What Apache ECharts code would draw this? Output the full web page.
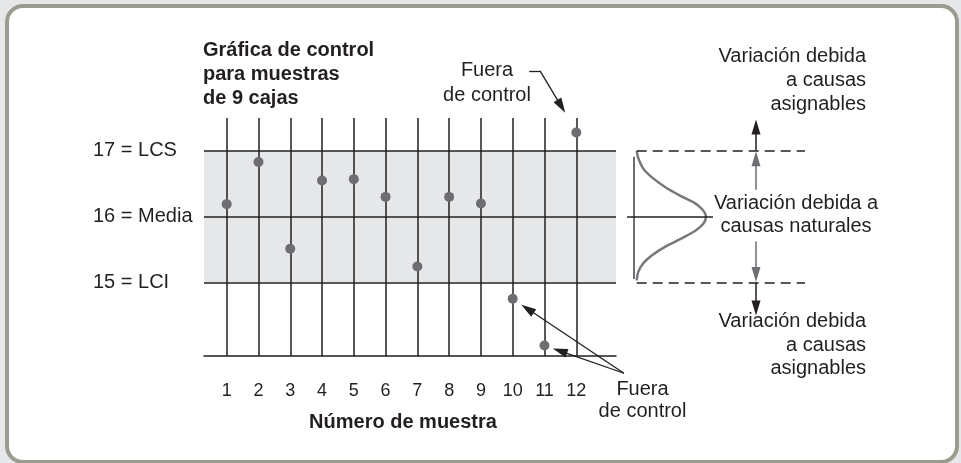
<!DOCTYPE html>
<html>
<head>
<meta charset="utf-8">
<script src="https://cdn.jsdelivr.net/npm/echarts@6/dist/echarts.min.js"></script>
<style>
  html, body { margin: 0; padding: 0; background: #e6e7e8; }
  #chart { width: 961px; height: 463px; }
</style>
</head>
<body>
<div id="chart"></div>
<script>
// número de muestra (eje X)
var samples = [1, 2, 3, 4, 5, 6, 7, 8, 9, 10, 11, 12];
// media de cada muestra de 9 cajas
var sampleMeans = [16.19, 16.83, 15.51, 16.55, 16.57, 16.30, 15.24, 16.30, 16.20, 14.75, 14.04, 17.28];
// LCI, media, LCS
var limitValues = [15, 16, 17];
var limitLabels = ['15 = LCI', '16 = Media', '17 = LCS'];
// campana de la variación natural (ancho, valor)
var bellWidth = [2.7, 4.3, 9.3, 17.7, 31, 46, 59.3, 67.7, 72, 69.3, 61, 47.7, 31, 17.7, 9.3, 4.3, 2.7];
var bellValue = [17.0, 16.89, 16.73, 16.60, 16.45, 16.32, 16.22, 16.12, 16.0, 15.89, 15.78, 15.67, 15.54, 15.41, 15.29, 15.16, 15.03];

var yMin = 13.88, yMax = 17.5;
var ink = '#231f20';
var grey = '#6d6e71';
var font = '"Liberation Sans", Arial, Helvetica, sans-serif';

var chart = echarts.init(document.getElementById('chart'));

function seg(a, b, style) {
    var s = [{ coord: a }, { coord: b }];
    if (style) s[0].lineStyle = style;
    return s;
}
function txt(text, x, y, align, lh, bold) {
    return {
        type: 'text', z: 5,
        style: {
            text: text, x: x, y: y, fill: ink,
            font: (bold ? 'bold ' : '') + '20px ' + font,
            textAlign: align, textVerticalAlign: 'top', lineHeight: lh
        }
    };
}

var points = samples.map(function (s, i) { return [s, sampleMeans[i]]; });
var bell = bellWidth.map(function (w, i) { return [w, bellValue[i]]; });

var noLabel = { show: false };

chart.setOption({
    animation: false,
    backgroundColor: '#e6e7e8',
    textStyle: { fontFamily: font },
    graphic: [
        { type: 'rect', z: -10, shape: { x: 7, y: 6, width: 950, height: 456, r: 16 },
          style: { fill: '#ffffff', stroke: '#9b9b8f', lineWidth: 4 } },
        txt('Gráfica de control\npara muestras\nde 9 cajas', 203, 38, 'left', 24, true),
        txt('Fuera\nde control', 487, 57.5, 'center', 25),
        txt('Variación debida\na causas\nasignables', 866, 44, 'right', 24),
        txt('Variación debida a\ncausas naturales', 796, 191.5, 'center', 23.5),
        txt('Variación debida\na causas\nasignables', 866, 310, 'right', 23.5),
        txt('Fuera\nde control', 642.5, 378, 'center', 22.5)
    ],
    grid: [
        { left: 204, top: 118, width: 412, height: 238 },
        { left: 614, top: 118, width: 220, height: 238 },
        // capa de anotaciones: misma escala que la gráfica, sobre todo el lienzo
        { left: 0, top: 0, width: 961, height: 463 }
    ],
    xAxis: [
        {
            type: 'value', gridIndex: 0, min: 0.286, max: 13.25,
            axisLine: { show: true, onZero: false, lineStyle: { color: ink, width: 1.5 } },
            axisTick: { show: false },
            splitLine: { show: false },
            axisLabel: { customValues: samples, color: ink, fontSize: 18, margin: 26 },
            name: 'Número de muestra', nameLocation: 'middle', nameGap: 56,
            nameTextStyle: { color: ink, fontSize: 20, fontWeight: 'bold', padding: [0, 14, 0, 0] }
        },
        { type: 'value', gridIndex: 1, min: -20, max: 200, show: false },
        { type: 'value', gridIndex: 2, min: -6.133, max: 24.106, show: false }
    ],
    yAxis: [
        {
            type: 'value', gridIndex: 0, min: yMin, max: yMax,
            axisLine: { show: false }, axisTick: { show: false }, splitLine: { show: false },
            axisLabel: {
                customValues: limitValues, align: 'left', margin: 111, color: ink, fontSize: 20,
                formatter: function (v) { return limitLabels[limitValues.indexOf(v)]; }
            }
        },
        { type: 'value', gridIndex: 1, min: yMin, max: yMax, show: false },
        { type: 'value', gridIndex: 2, min: 12.255, max: 19.297, show: false }
    ],
    series: [
        {
            // zona de control, rejilla vertical y límites
            name: 'rejilla', type: 'line', data: [], silent: true,
            markArea: {
                silent: true,
                itemStyle: { color: '#e6e7e8' },
                label: noLabel,
                data: [[{ yAxis: 15 }, { yAxis: 17 }]]
            },
            markLine: {
                silent: true, symbol: ['none', 'none'], label: noLabel,
                emphasis: { disabled: true },
                lineStyle: { color: ink, width: 1.5, type: 'solid' },
                data: samples.map(function (s) { return { xAxis: s }; })
                    .concat(limitValues.map(function (v) { return { yAxis: v }; }))
            }
        },
        {
            // flechas "Fuera de control"
            name: 'fuera', type: 'line', xAxisIndex: 2, yAxisIndex: 2, data: [], silent: true,
            markLine: {
                silent: true, symbol: ['none', 'triangle'], symbolSize: [9, 15], label: noLabel,
                emphasis: { disabled: true },
                lineStyle: { color: ink, width: 1.3, type: 'solid' },
                data: [
                    [{ coord: [10.52, 18.22], symbol: 'none' }, { coord: [10.86, 18.22], symbol: 'none' }],
                    seg([10.86, 18.22], [11.53, 17.68]),
                    seg([13.50, 13.62], [10.465, 14.60]),
                    seg([13.50, 13.62], [11.485, 13.96])
                ]
            }
        },
        {
            name: 'Media de la muestra', type: 'scatter', z: 10,
            data: points, symbolSize: 10,
            itemStyle: { color: grey, opacity: 1 }
        },
        {
            // distribución de la variación natural
            name: 'campana', type: 'line', xAxisIndex: 1, yAxisIndex: 1,
            data: bell, smooth: 0.3, symbol: 'none', silent: true,
            lineStyle: { color: '#77787b', width: 2.5 },
            markLine: {
                silent: true, symbol: ['none', 'none'], label: noLabel,
                emphasis: { disabled: true },
                lineStyle: { color: ink, width: 1.5, type: 'solid' },
                data: [
                    seg([-0.7, 16.91], [-0.7, 15.05], { color: grey, width: 2 }),
                    seg([-7, 16], [79, 16]),
                    seg([2.7, 17], [171, 17], { type: [10, 6] }),
                    seg([2.7, 15], [171, 15], { type: [10, 6] })
                ]
            }
        },
        {
            name: 'asignables', type: 'line', xAxisIndex: 1, yAxisIndex: 1, data: [], silent: true,
            markLine: {
                silent: true, symbol: ['none', 'triangle'], symbolSize: [9, 15], label: noLabel,
                emphasis: { disabled: true },
                lineStyle: { color: ink, width: 1.5, type: 'solid' },
                data: [
                    seg([122, 17], [122, 17.365]),
                    seg([122, 15], [122, 14.61])
                ]
            }
        },
        {
            name: 'naturales', type: 'line', xAxisIndex: 1, yAxisIndex: 1, data: [], silent: true,
            markLine: {
                silent: true, symbol: ['none', 'triangle'], symbolSize: [9, 15], label: noLabel,
                emphasis: { disabled: true },
                lineStyle: { color: grey, width: 1.5, type: 'solid' },
                itemStyle: { color: grey },
                data: [
                    seg([122, 16.41], [122, 16.88]),
                    seg([122, 15.62], [122, 15.12])
                ]
            }
        }
    ]
});
</script>
</body>
</html>
